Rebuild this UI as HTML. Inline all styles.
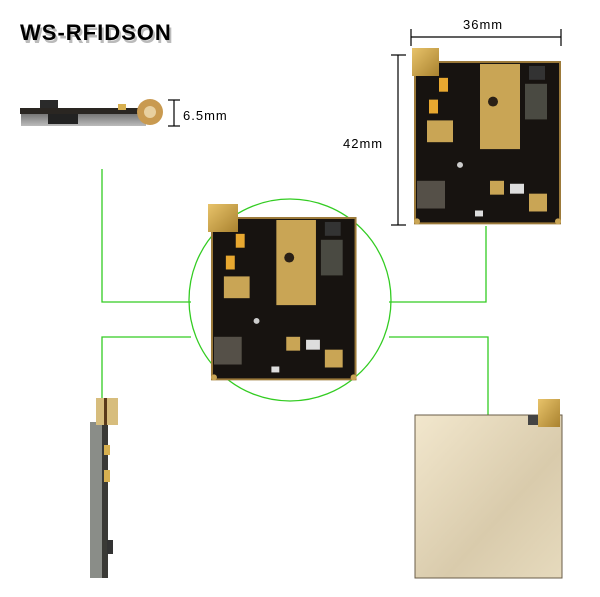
<!DOCTYPE html>
<html><head><meta charset="utf-8"><style>
html,body{margin:0;padding:0;background:#fff;width:600px;height:597px;overflow:hidden}
svg{display:block}
</style></head><body>
<svg width="600" height="597" viewBox="0 0 600 597" xmlns="http://www.w3.org/2000/svg">
<defs>
<linearGradient id="gold" x1="0" y1="0" x2="1" y2="1"><stop offset="0" stop-color="#e8c36a"/><stop offset="1" stop-color="#a9822f"/></linearGradient>
<linearGradient id="shield" x1="0" y1="0" x2="1" y2="1"><stop offset="0" stop-color="#f2e7cd"/><stop offset="0.6" stop-color="#d9cbac"/><stop offset="1" stop-color="#e6dabd"/></linearGradient>
<linearGradient id="side" x1="0" y1="0" x2="0" y2="1"><stop offset="0" stop-color="#777"/><stop offset="1" stop-color="#bbb"/></linearGradient>
<g id="pcb">
<rect x="0" y="0" width="145" height="163" fill="#171310" stroke="#9c7a3a" stroke-width="2"/>
<rect x="65" y="2" width="40" height="86" fill="#c9a555"/>
<circle cx="78" cy="40" r="5" fill="#2a2016"/>
<rect x="12" y="59" width="26" height="22" fill="#c9a555"/>
<rect x="24" y="16" width="9" height="14" fill="#e8a830"/>
<rect x="14" y="38" width="9" height="14" fill="#e8a830"/>
<rect x="110" y="22" width="22" height="36" fill="#4a4a42"/>
<rect x="114" y="4" width="16" height="14" fill="#333"/>
<rect x="2" y="120" width="28" height="28" fill="#555048"/>
<rect x="75" y="120" width="14" height="14" fill="#c9a555"/>
<rect x="95" y="123" width="14" height="10" fill="#ddd"/>
<rect x="114" y="133" width="18" height="18" fill="#c9a555"/>
<rect x="60" y="150" width="8" height="6" fill="#ddd"/>
<circle cx="45" cy="104" r="3" fill="#ccc"/>
<circle cx="2" cy="161" r="3" fill="#c9a555"/><circle cx="143" cy="161" r="3" fill="#c9a555"/>
</g>
</defs>

<!-- title -->
<text x="20" y="40" font-family="Liberation Sans, sans-serif" font-size="22" font-weight="bold" fill="#bbb" letter-spacing="1" transform="translate(2,3)">WS-RFIDSON</text>
<text x="20" y="40" font-family="Liberation Sans, sans-serif" font-size="22" font-weight="bold" fill="#000" letter-spacing="1">WS-RFIDSON</text>

<!-- green connectors -->
<g stroke="#33cc22" stroke-width="1.3" fill="none">
<circle cx="290" cy="300" r="101"/>
<polyline points="102,169 102,302 191,302"/>
<polyline points="389,302 486,302 486,226"/>
<polyline points="191,337 102,337 102,400"/>
<polyline points="389,337 488,337 488,417"/>
</g>

<!-- side view top-left -->
<rect x="40" y="100" width="18" height="10" fill="#2a2a2a"/>
<rect x="20" y="108" width="140" height="6" fill="#2a2622"/>
<rect x="21" y="114" width="125" height="12" fill="url(#side)"/>
<rect x="48" y="114" width="30" height="10" fill="#222"/>
<rect x="118" y="104" width="8" height="6" fill="#d8b050"/>
<circle cx="150" cy="112" r="13" fill="#c99a50"/>
<circle cx="150" cy="112" r="6" fill="#e8d0a0"/>
<g stroke="#000" stroke-width="1.2"><line x1="174" y1="100" x2="174" y2="126"/><line x1="168" y1="100" x2="180" y2="100"/><line x1="168" y1="126" x2="180" y2="126"/></g>
<text x="183" y="120" font-family="Liberation Sans, sans-serif" font-size="13" fill="#000" letter-spacing="1">6.5mm</text>

<!-- top-right board -->
<g stroke="#000" stroke-width="1.2">
<line x1="411" y1="37" x2="561" y2="37"/><line x1="411" y1="29" x2="411" y2="46"/><line x1="561" y1="29" x2="561" y2="46"/>
<line x1="398" y1="55" x2="398" y2="225"/><line x1="391" y1="55" x2="406" y2="55"/><line x1="391" y1="225" x2="406" y2="225"/>
</g>
<text x="463" y="29" font-family="Liberation Sans, sans-serif" font-size="13" fill="#000" letter-spacing="1">36mm</text>
<text x="343" y="148" font-family="Liberation Sans, sans-serif" font-size="13" fill="#000" letter-spacing="1">42mm</text>
<use href="#pcb" transform="translate(415,62) scale(1,0.99)"/>
<rect x="412" y="48" width="27" height="28" fill="url(#gold)"/>

<!-- center board -->
<use href="#pcb" transform="translate(212,218) scale(0.99,0.99)"/>
<rect x="208" y="204" width="30" height="28" fill="url(#gold)"/>

<!-- bottom-left side view -->
<rect x="90" y="422" width="12" height="156" fill="#8a8d88"/>
<rect x="102" y="422" width="6" height="156" fill="#3a3a36"/>
<rect x="104" y="445" width="6" height="10" fill="#d8b050"/>
<rect x="104" y="470" width="6" height="12" fill="#d8b050"/>
<rect x="107" y="540" width="6" height="14" fill="#333"/>
<rect x="96" y="398" width="22" height="27" fill="#d7bd7d"/>
<rect x="104" y="398" width="3" height="27" fill="#5a3a1a"/>

<!-- bottom-right shield -->
<rect x="415" y="415" width="147" height="163" fill="url(#shield)" stroke="#6a5d48" stroke-width="1"/>
<rect x="528" y="415" width="14" height="10" fill="#444"/>
<rect x="538" y="399" width="22" height="28" fill="url(#gold)"/>
</svg>
</body></html>
